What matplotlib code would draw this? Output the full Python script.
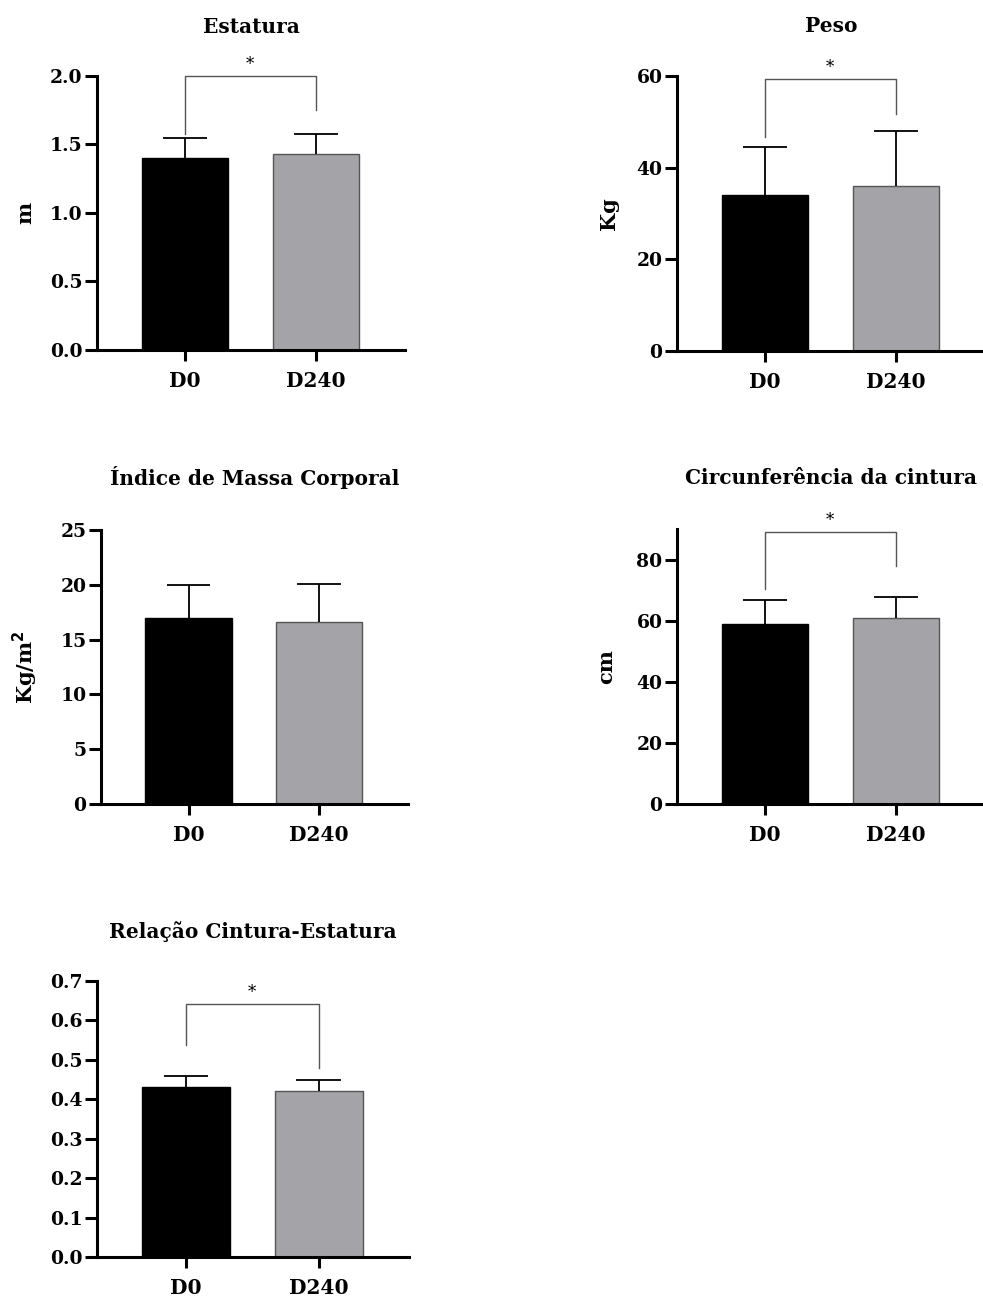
import matplotlib
matplotlib.use("Agg")
import matplotlib.pyplot as plt
from matplotlib.ticker import FormatStrFormatter

plt.rcParams['font.family'] = ['DejaVu Serif']
plt.rcParams['font.weight'] = 'bold'

groups = ["D0", "D240"]

# Estatura (m)
estatura_mean = [1.40, 1.43]
estatura_sd = [0.15, 0.15]
# Peso (Kg)
peso_mean = [34.0, 36.0]
peso_sd = [10.6, 12.0]
# Índice de Massa Corporal (Kg/m2)
imc_mean = [17.0, 16.6]
imc_sd = [3.0, 3.5]
# Circunferência da cintura (cm)
cc_mean = [59.0, 61.0]
cc_sd = [7.9, 6.6]
# Relação Cintura-Estatura
rce_mean = [0.43, 0.42]
rce_sd = [0.03, 0.03]

W, H = 983, 1300
fig = plt.figure(figsize=(W / 100, H / 100), dpi=100)


def add_axes_px(left, top, right, bottom):
    return fig.add_axes([left / W, 1 - bottom / H, (right - left) / W, (bottom - top) / H])


def panel(box, title, ylabel, means, sds, ylim, yticks, fmt=None, bracket=None,
          label_x=-0.2, title_y=1.18):
    ax = add_axes_px(*box)
    x = [0, 1]
    ax.bar(x, means, width=0.66, color=["black", "#a4a4a8"],
           edgecolor=["black", "#555555"], linewidth=1.0, zorder=2)
    # upper-only error bars (SD)
    tops = [m + s for m, s in zip(means, sds)]
    ax.vlines(x, means, tops, color="black", lw=1.3, zorder=3)
    ax.hlines(tops, [xi - 0.168 for xi in x], [xi + 0.168 for xi in x],
              color="black", lw=1.3, zorder=3)
    ax.set_xlim(-0.67, 1.68)
    ax.set_ylim(*ylim)
    ax.set_yticks(yticks)
    if fmt:
        ax.yaxis.set_major_formatter(FormatStrFormatter(fmt))
    ax.set_xticks(x)
    ax.set_xticklabels(groups, fontsize=14.5, fontweight="bold")
    for lab in ax.get_yticklabels():
        lab.set_fontsize(13.5)
        lab.set_fontweight("bold")
    for s in ("top", "right"):
        ax.spines[s].set_visible(False)
    for s in ("left", "bottom"):
        ax.spines[s].set_linewidth(2.2)
    ax.tick_params(axis="y", length=8.5, width=2.2, pad=2)
    ax.tick_params(axis="x", length=8, width=2.2, pad=7)
    ax.text(0.5, title_y, title, transform=ax.transAxes,
            ha="center", va="center", fontsize=14.5, fontweight="bold")
    if ylabel:
        ax.set_ylabel(ylabel, fontsize=15, fontweight="bold")
        ax.yaxis.set_label_coords(label_x, 0.5)
    if bracket:
        top, lb, rb = bracket
        ax.plot([0, 0, 1, 1], [lb, top, top, rb], color="#555555", lw=1.0,
                clip_on=False, zorder=4)
        span = ylim[1] - ylim[0]
        ax.text(0.5, top + span * 0.012, "*", ha="center", va="bottom",
                fontsize=12, fontweight="normal")
    return ax


panel((97, 76, 405, 350), "Estatura", "m", estatura_mean, estatura_sd,
      (0, 2.0), [0, 0.5, 1.0, 1.5, 2.0], fmt="%.1f", bracket=(2.0, 1.58, 1.75),
      label_x=-0.202)
panel((677, 76, 985, 351), "Peso", "Kg", peso_mean, peso_sd,
      (0, 60), [0, 20, 40, 60], bracket=(59.3, 46.8, 51.8), label_x=-0.187)
panel((101, 530, 408, 804), "Índice de Massa Corporal", "Kg/m$^{\\mathbf{2}}$",
      imc_mean, imc_sd, (0, 25), [0, 5, 10, 15, 20, 25], label_x=-0.198,
      title_y=1.19)
panel((677, 529, 985, 804), "Circunferência da cintura", "cm", cc_mean, cc_sd,
      (0, 90), [0, 20, 40, 60, 80], bracket=(89, 70.4, 77.8), label_x=-0.198,
      title_y=1.185)
panel((97, 981, 409, 1257), "Relação Cintura-Estatura", None, rce_mean, rce_sd,
      (0, 0.7), [0.0, 0.1, 0.2, 0.3, 0.4, 0.5, 0.6, 0.7], fmt="%.1f",
      bracket=(0.642, 0.537, 0.479))

fig.savefig("out.png", dpi=100)
